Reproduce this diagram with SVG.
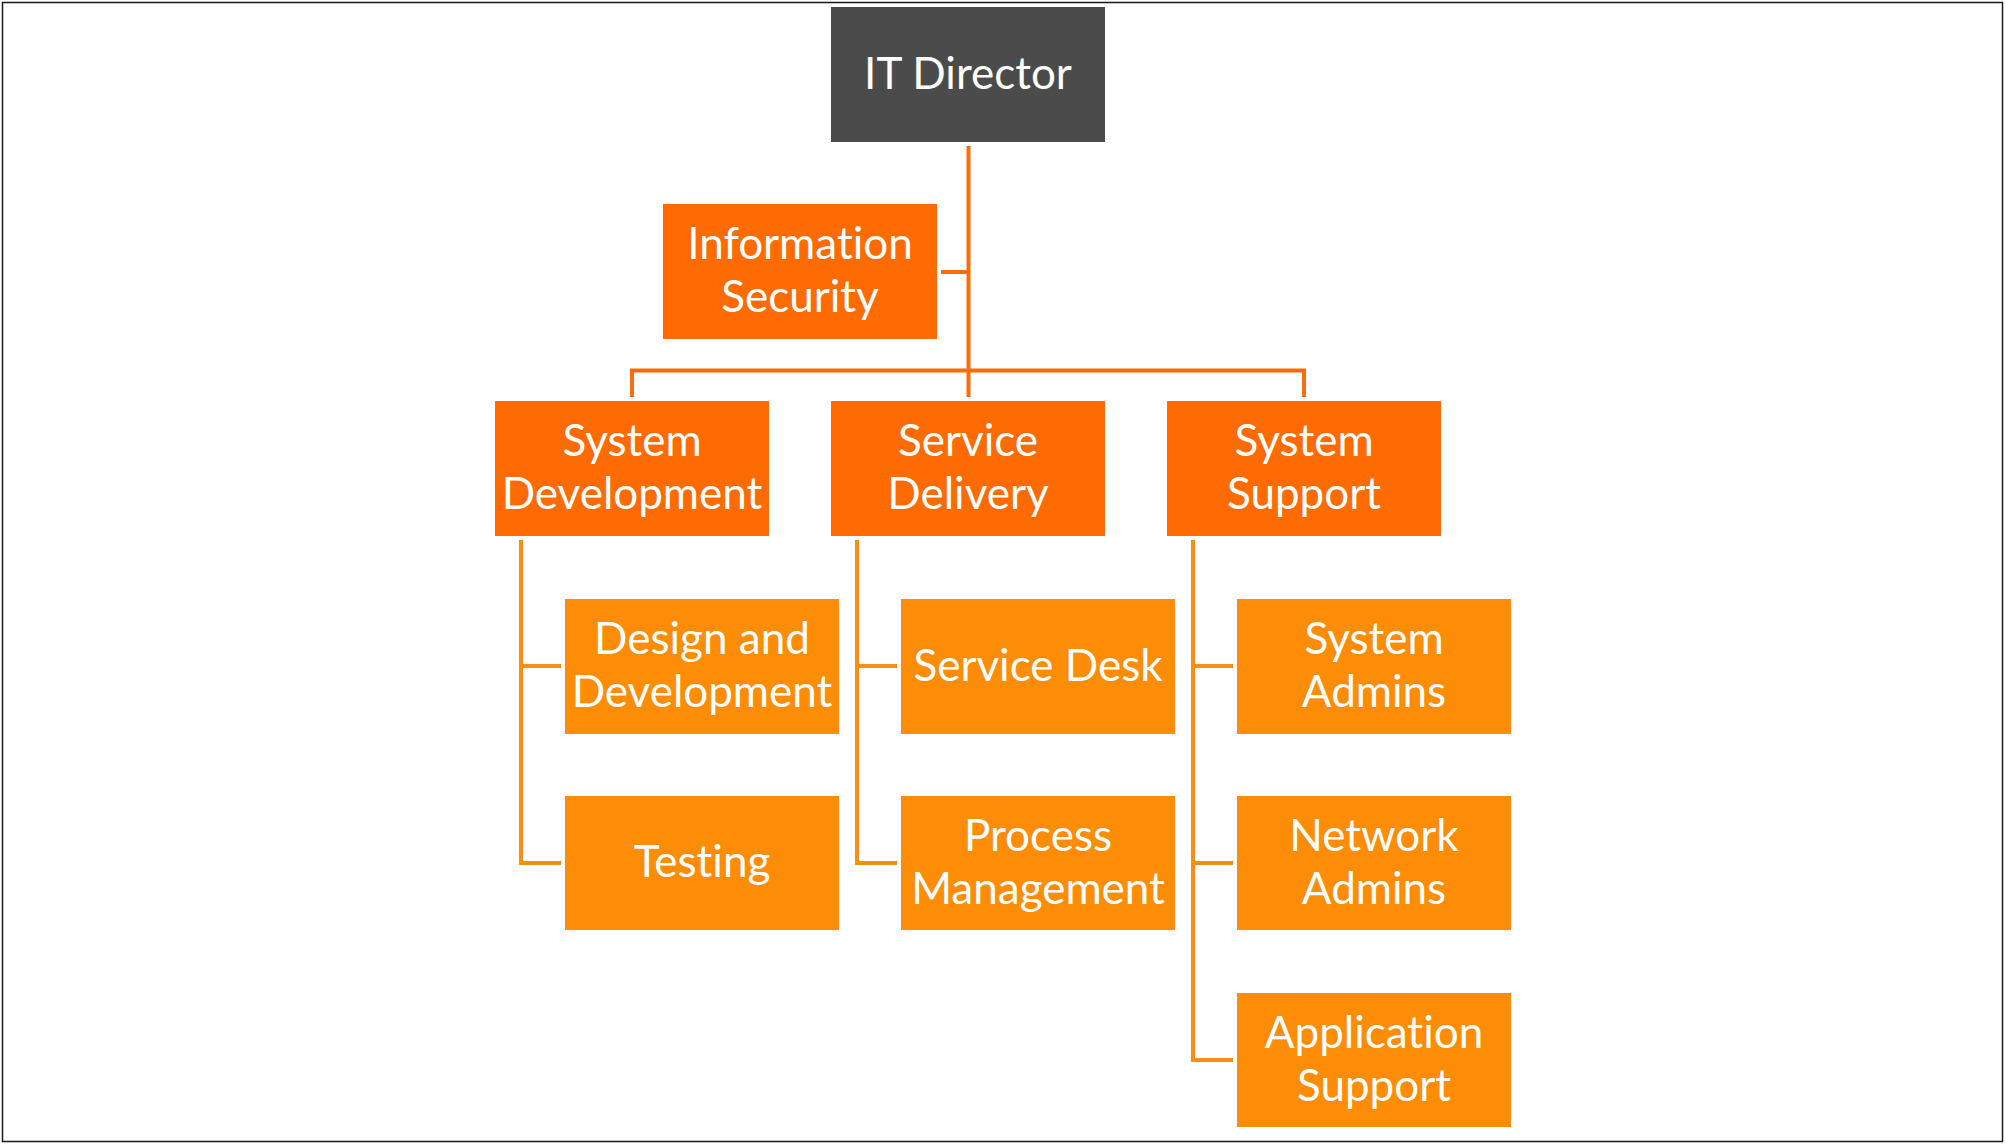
<svg xmlns="http://www.w3.org/2000/svg" width="2006" height="1145" viewBox="0 0 2006 1145">
<style>
.t{font-family:Lato,"Liberation Sans",sans-serif;font-size:44px;fill:#fff;text-anchor:middle;font-variant-ligatures:none;font-feature-settings:"liga" 0}
.l1{fill:#fd6b02}
.l3{fill:#fd8c06}
.c1{stroke:#fc6c0a;stroke-width:4;fill:none}
.c2{stroke:#f98d15;stroke-width:4;fill:none}
</style>
<rect x="2.5" y="2.5" width="2000" height="1139" fill="#fff" stroke="#1a1a1a" stroke-width="1.5"/>
<g id="connectors">
<path class="c1" d="M968.5 146V397M941 272H968.5M632 397V370.5H1304V397"/>
<path class="c2" d="M521 540V863H561M521 666H561"/>
<path class="c2" d="M857 540V863H897M857 666H897"/>
<path class="c2" d="M1193 540V1060H1233M1193 666H1233M1193 863H1233"/>
</g>
<g id="it-director"><rect x="831" y="7" width="274" height="135" fill="#4a4b4a"/><text class="t" x="968" y="89">IT Director</text></g>
<g id="information-security"><rect class="l1" x="663" y="204" width="274" height="135"/><text class="t" x="800" y="259">Information</text><text class="t" x="800" y="312">Security</text></g>
<g id="system-development"><rect class="l1" x="495" y="401" width="274" height="135"/><text class="t" x="632" y="456">System</text><text class="t" x="632" y="509">Development</text></g>
<g id="service-delivery"><rect class="l1" x="831" y="401" width="274" height="135"/><text class="t" x="968" y="456">Service</text><text class="t" x="968" y="509">Delivery</text></g>
<g id="system-support"><rect class="l1" x="1167" y="401" width="274" height="135"/><text class="t" x="1304" y="456">System</text><text class="t" x="1304" y="509">Support</text></g>
<g id="design-and-development"><rect class="l3" x="565" y="599" width="274" height="135"/><text class="t" x="702" y="654">Design and</text><text class="t" x="702" y="707">Development</text></g>
<g id="testing"><rect class="l3" x="565" y="796" width="274" height="134"/><text class="t" x="702" y="877">Testing</text></g>
<g id="service-desk"><rect class="l3" x="901" y="599" width="274" height="135"/><text class="t" x="1038" y="681">Service Desk</text></g>
<g id="process-management"><rect class="l3" x="901" y="796" width="274" height="134"/><text class="t" x="1038" y="851">Process</text><text class="t" x="1038" y="904">Management</text></g>
<g id="system-admins"><rect class="l3" x="1237" y="599" width="274" height="135"/><text class="t" x="1374" y="654">System</text><text class="t" x="1374" y="707">Admins</text></g>
<g id="network-admins"><rect class="l3" x="1237" y="796" width="274" height="134"/><text class="t" x="1374" y="851">Network</text><text class="t" x="1374" y="904">Admins</text></g>
<g id="application-support"><rect class="l3" x="1237" y="993" width="274" height="134"/><text class="t" x="1374" y="1048">Application</text><text class="t" x="1374" y="1101">Support</text></g>
</svg>
